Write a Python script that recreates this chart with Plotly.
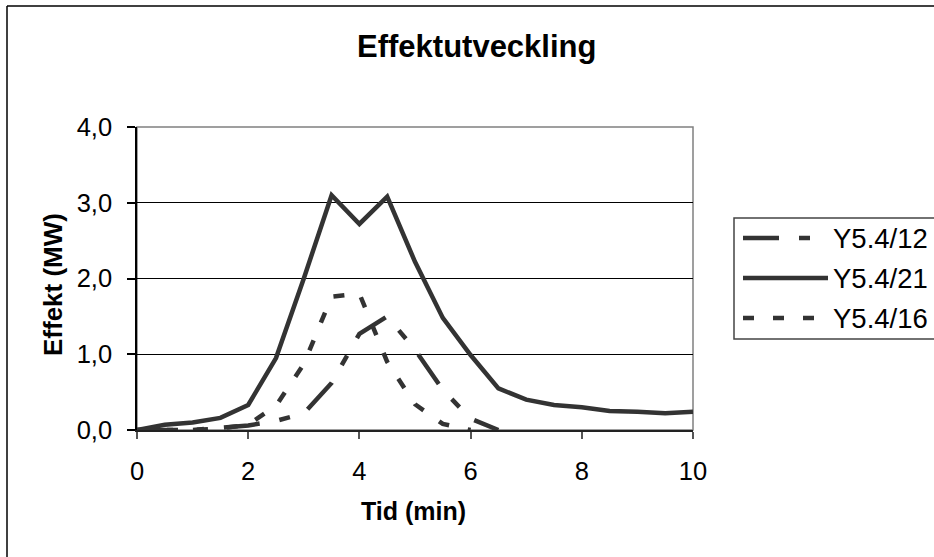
import plotly.graph_objects as go

# ---- data ----
time_min = [0, 0.5, 1, 1.5, 2, 2.5, 3, 3.5, 4, 4.5, 5, 5.5, 6, 6.5, 7, 7.5, 8, 8.5, 9, 9.5, 10]
y12_time = [0, 0.5, 1, 1.5, 2, 2.5, 3, 3.5, 4, 4.5, 5, 5.5, 6, 6.5]
y12_mw = [0, 0, 0, 0.03, 0.06, 0.12, 0.22, 0.62, 1.27, 1.5, 1.06, 0.53, 0.15, 0.0]
y21_mw = [0, 0.07, 0.1, 0.16, 0.33, 0.95, 2.0, 3.1, 2.72, 3.08, 2.22, 1.48, 0.99, 0.55,
          0.4, 0.33, 0.3, 0.25, 0.24, 0.22, 0.24]
y16_time = [0, 0.5, 1, 1.5, 2, 2.5, 3, 3.5, 4, 4.5, 5, 5.5, 6]
y16_mw = [0, 0, 0, 0.02, 0.07, 0.32, 0.87, 1.76, 1.8, 0.9, 0.34, 0.08, 0.0]
series_names = ["Y5.4/12", "Y5.4/21", "Y5.4/16"]
x_ticks = [0, 2, 4, 6, 8, 10]
y_ticks = [0, 1, 2, 3, 4]

W, H = 934, 557
L, R, T, B = 137, 693, 127, 430  # plot area pixels
FONT = "Liberation Sans, Arial, sans-serif"
LC = "#333333"
dashes = ["36px,20px,11px,20px", "solid", "11px,19px"]


def px(xp):
    return (xp - L) / (R - L)


def py(yp):
    return (B - yp) / (B - T)


fig = go.Figure()
fig.add_trace(go.Scatter(x=y12_time, y=y12_mw, mode="lines", name=series_names[0],
                         line=dict(color=LC, width=4.5, dash=dashes[0])))
fig.add_trace(go.Scatter(x=time_min, y=y21_mw, mode="lines", name=series_names[1],
                         line=dict(color=LC, width=4.5, dash=dashes[1])))
fig.add_trace(go.Scatter(x=y16_time, y=y16_mw, mode="lines", name=series_names[2],
                         line=dict(color=LC, width=4.5, dash=dashes[2])))

shapes = []
# plot-area border (top/right gray)
shapes.append(dict(type="rect", xref="paper", yref="paper", x0=0, x1=1, y0=0, y1=1,
                   line=dict(color="#808080", width=1.5), layer="below"))
# outer chart frame (left & top visible)
shapes.append(dict(type="line", xref="paper", yref="paper", x0=px(7), x1=px(7),
                   y0=py(6), y1=py(565), line=dict(color="black", width=1.5)))
shapes.append(dict(type="line", xref="paper", yref="paper", x0=px(7), x1=px(945),
                   y0=py(6), y1=py(6), line=dict(color="black", width=1.5)))
# legend box
shapes.append(dict(type="rect", xref="paper", yref="paper", x0=px(734), x1=px(945),
                   y0=py(339), y1=py(218), line=dict(color="#444444", width=1.5),
                   fillcolor="white"))
rows = [238, 278, 318]
annotations = []
for name, dash, ry in zip(series_names, dashes, rows):
    shapes.append(dict(type="line", xref="paper", yref="paper", x0=px(743), x1=px(828),
                       y0=py(ry), y1=py(ry), line=dict(color=LC, width=4.5, dash=dash)))
    annotations.append(dict(text=name, xref="paper", yref="paper", x=px(831), y=py(ry),
                            xanchor="left", yanchor="middle", showarrow=False,
                            font=dict(family=FONT, size=27.5, color="black")))

annotations.append(dict(text="Effektutveckling", xref="paper", yref="paper",
                        x=px(476), y=py(46), xanchor="center", yanchor="middle",
                        showarrow=False,
                        font=dict(family=FONT, size=31, color="black", weight="bold")))
annotations.append(dict(text="Tid (min)", xref="paper", yref="paper",
                        x=px(413), y=py(511), xanchor="center", yanchor="middle",
                        showarrow=False,
                        font=dict(family=FONT, size=25, color="black", weight="bold")))
annotations.append(dict(text="Effekt (MW)", xref="paper", yref="paper",
                        x=px(53), y=py(285), xanchor="center", yanchor="middle",
                        showarrow=False, textangle=-90,
                        font=dict(family=FONT, size=26, color="black", weight="bold")))

fig.update_layout(
    width=W, height=H,
    margin=dict(l=L, r=W - R, t=T, b=H - B, pad=0),
    paper_bgcolor="white", plot_bgcolor="white",
    showlegend=False,
    separators=", ",
    font=dict(family=FONT, size=24, color="black"),
    shapes=shapes, annotations=annotations,
    xaxis=dict(range=[0, 10], tickvals=x_ticks, tickformat="d", showgrid=False,
               zeroline=False, showline=True, linecolor="#222222", linewidth=1.5,
               ticks="outside", ticklen=7, tickcolor="#555555", tickwidth=1.5,
               ticklabelstandoff=11, tickfont=dict(size=25.5)),
    yaxis=dict(range=[0, 4], tickvals=y_ticks, tickformat=".1f", showgrid=True,
               gridcolor="black", gridwidth=1, zeroline=False, showline=True,
               linecolor="black", linewidth=1.5, ticks="outside", ticklen=8,
               tickcolor="black", tickwidth=1.5, ticklabelstandoff=10,
               tickfont=dict(size=25.5)),
)

fig.write_html("out.html")
